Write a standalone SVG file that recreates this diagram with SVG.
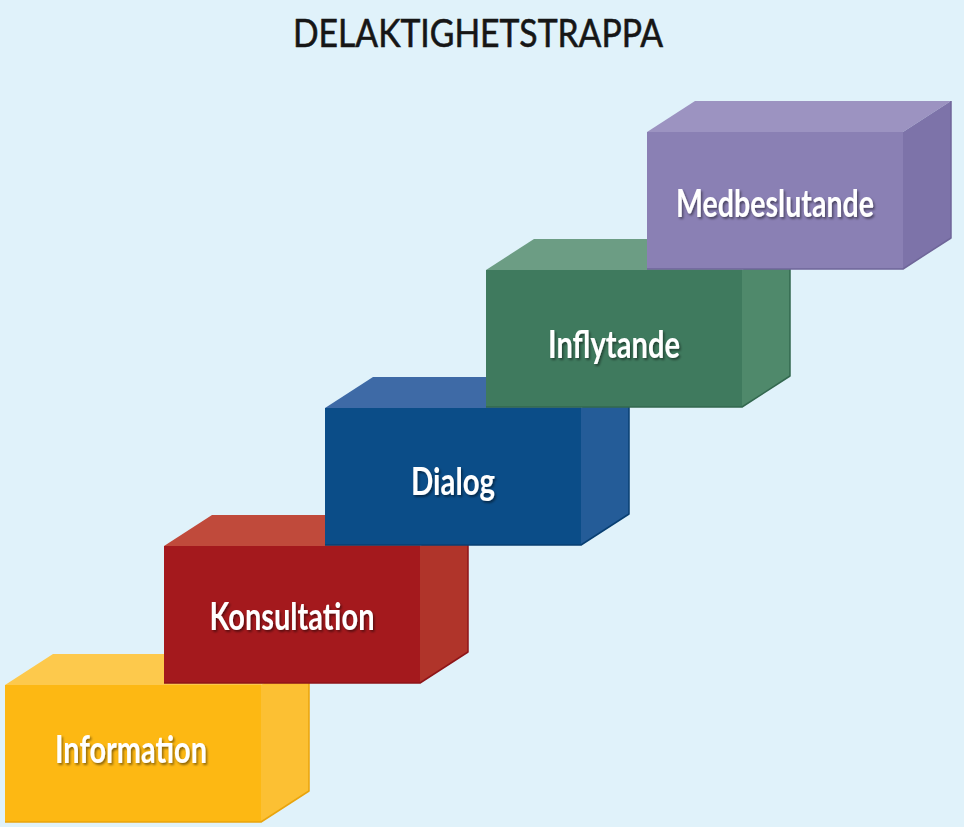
<svg xmlns="http://www.w3.org/2000/svg" width="964" height="827" viewBox="0 0 964 827">
<defs>
<filter id="sh" x="-10%" y="-20%" width="120%" height="150%">
<feDropShadow dx="1.5" dy="2" stdDeviation="1.2" flood-color="#000" flood-opacity="0.45"/>
</filter>
</defs>
<style>
.lbl{font-family:Lato,"Open Sans","Liberation Sans",sans-serif;font-weight:bold;font-size:38px;fill:#ffffff;filter:url(#sh)}
.title{font-family:Lato,"Open Sans","Liberation Sans",sans-serif;font-size:38px;fill:#161616;stroke:#161616;stroke-width:0.6}
.edge{fill:none;stroke-width:1.5;stroke-linejoin:round}
</style>
<rect x="0" y="0" width="964" height="827" fill="#e0f2fa"/>
<text class="title" x="478" y="47" text-anchor="middle" textLength="370" lengthAdjust="spacingAndGlyphs">DELAKTIGHETSTRAPPA</text>

<g id="information">
<polygon points="5,685 53,654 309,654 261,685" fill="#fdc94c"/>
<polygon points="261,685 309,654 309,791 261,822" fill="#fcc033"/>
<rect x="5" y="685" width="256" height="137" fill="#fdb813"/>
<polyline class="edge" points="5,822 261,822 309,791 309,654" stroke="#e9a40c"/>
<text class="lbl" x="131" y="763" text-anchor="middle" textLength="152" lengthAdjust="spacingAndGlyphs">Information</text>
</g>

<g id="konsultation">
<polygon points="164,546 212,515 468,515 420,546" fill="#c04a3b"/>
<polygon points="420,546 468,515 468,652 420,683" fill="#b0342a"/>
<rect x="164" y="546" width="256" height="137" fill="#a4191d"/>
<polyline class="edge" points="164,683 420,683 468,652 468,515" stroke="#8e1518"/>
<text class="lbl" x="292" y="630" text-anchor="middle" textLength="165" lengthAdjust="spacingAndGlyphs">Konsultation</text>
</g>

<g id="dialog">
<polygon points="325,408 373,377 629,377 581,408" fill="#3e6aa6"/>
<polygon points="581,408 629,377 629,514 581,545" fill="#245c98"/>
<rect x="325" y="408" width="256" height="137" fill="#0b4d88"/>
<polyline class="edge" points="325,545 581,545 629,514 629,377" stroke="#083f72"/>
<text class="lbl" x="453" y="495" text-anchor="middle" textLength="84" lengthAdjust="spacingAndGlyphs">Dialog</text>
</g>

<g id="inflytande">
<polygon points="486,270 534,239 790,239 742,270" fill="#6c9d84"/>
<polygon points="742,270 790,239 790,376 742,407" fill="#4f896b"/>
<rect x="486" y="270" width="256" height="137" fill="#3f7a5e"/>
<polyline class="edge" points="486,407 742,407 790,376 790,239" stroke="#33684f"/>
<text class="lbl" x="614" y="358" text-anchor="middle" textLength="132" lengthAdjust="spacingAndGlyphs">Inflytande</text>
</g>

<g id="medbeslutande">
<polygon points="647,132 695,101 951,101 903,132" fill="#9c93c1"/>
<polygon points="903,132 951,101 951,238 903,269" fill="#7d73a9"/>
<rect x="647" y="132" width="256" height="137" fill="#8a80b4"/>
<polyline class="edge" points="647,269 903,269 951,238 951,101" stroke="#6f6699"/>
<text class="lbl" x="775" y="217" text-anchor="middle" textLength="198" lengthAdjust="spacingAndGlyphs">Medbeslutande</text>
</g>

<g id="connectors"></g>
</svg>
